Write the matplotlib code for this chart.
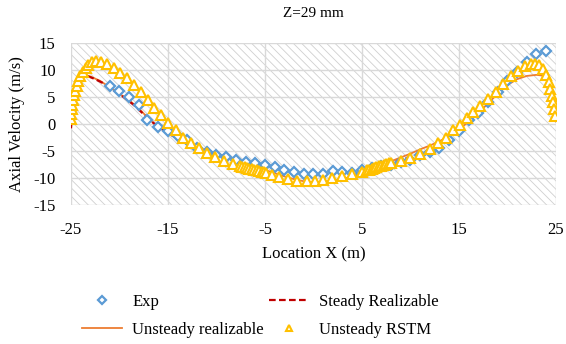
import numpy as np
import matplotlib.pyplot as plt
from matplotlib.patches import Rectangle

plt.rcParams['font.family'] = ['Liberation Serif', 'DejaVu Serif']
plt.rcParams['axes.unicode_minus'] = False
plt.rcParams['hatch.linewidth'] = 0.6

# Experimental data (diamonds)
exp_x = [-21, -20, -19, -18, -17.2, -16, -15, -14, -13, -12, -11, -10, -9, -8,
         -7, -6, -5, -4, -3, -2, -1, 0, 1, 2, 3, 4, 5, 6, 7, 8, 9, 10, 11, 12,
         13, 14, 15, 16, 17, 18, 19, 20, 21, 22, 23, 24]
exp_y = [7.0, 6.2, 5.0, 3.5, 0.8, -0.5, -1.3, -2.2, -3.0, -4.4, -5.2, -5.7, -6.2,
         -6.7, -7.0, -7.3, -7.6, -8.0, -8.5, -8.8, -9.2, -9.2, -9.2, -8.7, -8.8,
         -9.0, -8.6, -8.2, -7.8, -7.5, -7.1, -6.6, -5.8, -5.1, -4.4, -3.0, -1.3,
         0.8, 2.1, 4.0, 6.0, 8.0, 9.6, 11.5, 13.0, 13.5]

# Steady realizable (dashed)
steady_x = [-25, -24.8, -24.5, -24.2, -23.9, -23.3, -22.5, -21.5, -20.5, -19.5,
            -18.5, -17.5, -16.5, -15.5, -14.5, -13.5, -12.5, -11.5, -10.5, -9.5,
            -8.5, -7.5, np.nan, 7.5, 8.5, 9.5, 10.5, 11.2]
steady_y = [-0.8, 4.0, 6.4, 8.0, 8.9, 8.9, 8.3, 7.4, 6.1, 4.9, 3.5, 1.8, 0.2,
            -1.1, -2.2, -3.1, -3.9, -4.6, -5.3, -5.8, -6.4, -6.9, np.nan,
            -7.4, -6.9, -6.4, -5.9, -5.4]

# Unsteady realizable (solid)
unsteady_x = [-25, -24.8, -24.5, -24.2, -23.6, -23, -22, -21, -20, -19, -18, -17,
              -16, -15, -14, -13, -12, -11, -10, -9, -8, -7, -6, -5, -4, -3, -2,
              -1, 0, 1, 2, 3, 4, 5, 6, 7, 8, 9, 10, 11, 12, 13, 14, 15, 16, 17,
              18, 19, 20, 21, 22, 23, 23.5, 24, 24.5, 24.8, 25]
unsteady_y = [-0.5, 4.0, 6.0, 7.4, 8.8, 8.8, 8.0, 6.8, 5.6, 4.4, 2.9, 1.0, -0.6,
              -1.6, -2.7, -3.5, -4.2, -4.9, -5.5, -6.0, -6.6, -7.3, -7.9, -8.5,
              -9.1, -9.7, -10.2, -10.6, -10.8, -10.7, -10.5, -10.2, -9.7, -9.2,
              -8.5, -7.7, -6.9, -6.2, -5.5, -4.7, -4.0, -3.2, -2.2, -1.0, 0.4,
              2.0, 3.8, 5.6, 7.2, 8.3, 8.9, 9.1, 9.0, 8.7, 7.5, 5.0, 0.5]

# Unsteady RSTM (triangles)
rstm_x = [-25, -24.95, -24.9, -24.85, -24.75, -24.65, -24.55, -24.4, -24.25,
          -24.05, -23.8, -23.5, -23.2, -22.8, -22.4, -21.9, -21.3, -20.6, -19.9,
          -19.2, -18.5, -17.8, -17.1, -16.4, -15.7, -15.0, -14.2, -13.4, -12.6,
          -11.8, -11.0, -10.1, -9.2, -8.3, -7.6, -7.35, -7.1, -6.85, -6.6,
          -6.35, -6.1, -5.85, -5.6, -5.35, -5.1, -4.85, -4.3, -3.5, -2.6, -1.7,
          -0.7, 0.2, 1.0, 1.9, 2.9, 4.0, 5.0, 5.5, 5.75, 6.0, 6.25, 6.5, 6.75,
          7.0, 7.25, 7.5, 7.75, 8.0, 9.0, 10.0, 11.0, 12.0, 12.9, 13.7, 14.4,
          15.1, 15.8, 16.5, 17.2, 18.0, 18.8, 19.6, 20.4, 21.1, 21.8, 22.4,
          22.9, 23.3, 23.7, 24.0, 24.25, 24.45, 24.6, 24.75, 24.85, 24.95]
rstm_y = [0.9, 1.8, 2.7, 3.6, 4.4, 5.3, 6.2, 7.1, 8.0, 8.9, 9.7, 10.4, 11.0,
          11.4, 11.6, 11.5, 11.1, 10.4, 9.5, 8.5, 7.3, 5.9, 4.5, 3.0, 1.6, 0.2,
          -1.2, -2.5, -3.5, -4.4, -5.3, -6.1, -6.8, -7.4, -7.8, -7.9, -8.0,
          -8.15, -8.3, -8.4, -8.5, -8.6, -8.75, -8.85, -8.95, -9.1, -9.4, -9.8,
          -10.2, -10.5, -10.6, -10.5, -10.3, -10.0, -9.7, -9.3, -8.8, -8.6,
          -8.45, -8.3, -8.15, -8.0, -7.85, -7.7, -7.55, -7.4, -7.3, -7.2, -6.8,
          -6.3, -5.6, -4.7, -3.6, -2.5, -1.2, -0.1, 1.1, 2.2, 3.3, 4.6, 6.0, 7.4,
          8.8, 9.9, 10.8, 11.2, 11.2, 10.9, 10.1, 9.0, 7.8, 6.5, 5.2, 4.0, 2.8,
          1.5]

fig = plt.figure(figsize=(5.66, 3.44), dpi=100)
ax = fig.add_axes([0.1254, 0.404, 0.8566, 0.471])

# hatched plot area
bg = Rectangle((-25, -15), 50, 30, facecolor='white', edgecolor='#d0d0d0',
               linewidth=0, hatch='\\' * 4, zorder=0)
ax.add_patch(bg)

ax.set_xlim(-25, 25)
ax.set_ylim(-15, 15)
ax.set_xticks([-25, -15, -5, 5, 15, 25])
ax.set_yticks(np.arange(-15, 16, 5))
ax.grid(True, color='#d9d9d9', linewidth=1.0, zorder=1)
ax.set_axisbelow(True)
for s in ax.spines.values():
    s.set_visible(False)
ax.tick_params(length=0, labelsize=12)
ax.tick_params(axis='x', pad=12)
ax.tick_params(axis='y', pad=11)

ax.plot(unsteady_x, unsteady_y, color='#ED7D31', lw=1.3, zorder=3,
        label='Unsteady realizable')
ax.plot(steady_x, steady_y, color='#C00000', lw=1.6, ls=(0, (3, 1.5)), zorder=4,
        label='Steady Realizable')
ax.plot(exp_x, exp_y, ls='none', marker='D', ms=5.5, mfc='white', mec='#5B9BD5',
        mew=1.6, zorder=5, label='Exp')
ax.plot(rstm_x, rstm_y, ls='none', marker='^', ms=6.5, mfc='white', mec='#FFC000',
        mew=1.5, zorder=6, label='Unsteady RSTM')

ax.set_title('Z=29 mm', fontsize=11, pad=19)
ax.set_xlabel('Location X (m)', fontsize=12, labelpad=6)
ax.set_ylabel('Axial Velocity (m/s)', fontsize=12, labelpad=6)

h, l = ax.get_legend_handles_labels()
order = [2, 0, 1, 3]
fig.legend([h[i] for i in order], [l[i] for i in order], ncol=2,
           loc='lower center', bbox_to_anchor=(0.46, -0.025), frameon=False,
           fontsize=12, handlelength=2.4, columnspacing=0.3,
           labelspacing=0.7, handletextpad=0.6, markerscale=0.75)

fig.savefig('out.png', dpi=100)
